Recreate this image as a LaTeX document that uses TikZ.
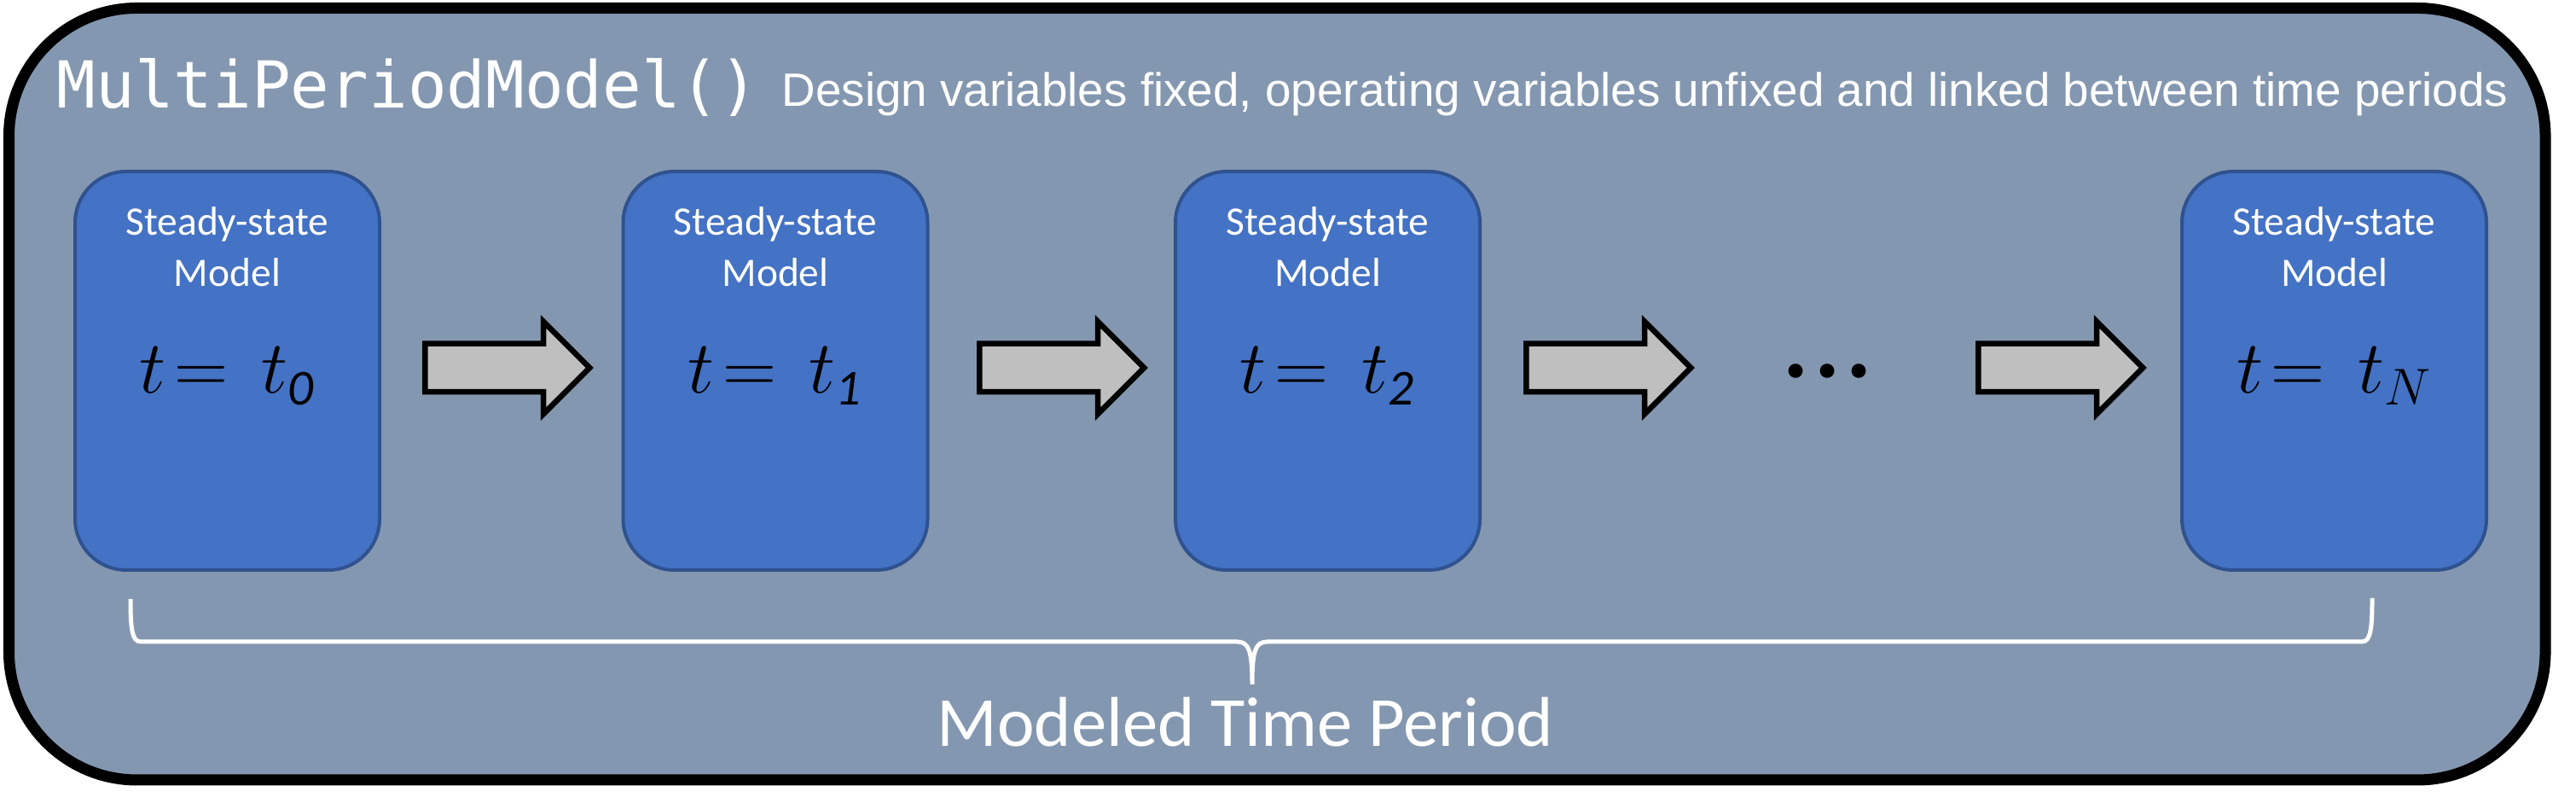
\documentclass[tikz,border=0pt]{standalone}
\usepackage{fontspec}
\setmainfont{Carlito}
\setmonofont{DejaVu Sans Mono}
\newfontfamily\arialfont{Liberation Sans}
\usetikzlibrary{shapes.arrows}

\definecolor{panelgray}{HTML}{8497B0}
\definecolor{modelblue}{HTML}{4472C4}
\definecolor{modeledge}{HTML}{2F528F}
\definecolor{arrowgray}{HTML}{BFBFBF}

\begin{document}
\begin{tikzpicture}[
    model/.style={draw=modeledge, line width=0.04cm, fill=modelblue, rounded corners=0.6cm, minimum width=3.57cm, minimum height=4.67cm, inner sep=0},
    modeltext/.style={text=white, align=center, inner sep=0, font=\fontsize{13.5}{17}\selectfont},
    timelabel/.style={anchor=base, inner sep=0, font=\fontsize{24}{28}\selectfont},
    blockarrow/.style={single arrow, draw=black, line width=0.065cm, fill=arrowgray, minimum height=1.93cm, inner xsep=0, inner ysep=0.25cm, single arrow head extend=0.26cm, anchor=tail},
    brace/.style={draw=white, line width=0.05cm}
  ]
    \useasboundingbox (0,0) rectangle (30.2,9.48);

    % 外框
    \draw[line width=0.13cm, fill=panelgray, rounded corners=1.5cm] (0.105,0.34) rectangle (29.84,9.385);

    % 标题
    \node[anchor=base west, inner sep=0, text=white, font=\ttfamily\fontsize{21.6}{26}\selectfont] (title) at (0.66,8.21) {MultiPeriodModel()};
    \node[anchor=base west, inner sep=0, text=white, font=\arialfont\fontsize{15.6}{18}\selectfont] (subtitle) at (9.16,8.23) {Design variables fixed, operating variables unfixed and linked between time periods};

    % 稳态模型
    \node[model] (m0) at (2.665,5.135) {};
    \node[model] (m1) at (9.09,5.135) {};
    \node[model] (m2) at (15.565,5.135) {};
    \node[model] (mN) at (27.365,5.135) {};

    \node[modeltext] at ([yshift=-0.9cm]m0.north) {Steady-state\\Model};
    \node[modeltext] at ([yshift=-0.9cm]m1.north) {Steady-state\\Model};
    \node[modeltext] at ([yshift=-0.9cm]m2.north) {Steady-state\\Model};
    \node[modeltext] at ([yshift=-0.9cm]mN.north) {Steady-state\\Model};

    \node[timelabel] at ([yshift=-0.265cm]m0.center) {$t\!=\,t_{\mathit{0}}$};
    \node[timelabel] at ([yshift=-0.265cm]m1.center) {$t\!=\,t_{\mathit{1}}$};
    \node[timelabel] at ([yshift=-0.265cm]m2.center) {$t\!=\,t_{\mathit{2}}$};
    \node[timelabel] at ([yshift=-0.265cm]mN.center) {$t\!=\,t_{N}$};

    % 箭头
    \node[blockarrow] (a0) at (4.95,5.17) {};
    \node[blockarrow] (a1) at (11.45,5.17) {};
    \node[blockarrow] (a2) at (17.86,5.17) {};
    \node[blockarrow] (a3) at (23.16,5.17) {};

    % 省略号
    \node[anchor=base, inner sep=0, font=\bfseries\fontsize{32}{34}\selectfont] (dots) at (21.43,5.05) {.\kern0.07cm.\kern0.07cm.};

    % 大括号
    \draw[brace] (1.53,2.46) .. controls (1.53,2.10) and (1.55,1.96) .. (1.65,1.96) -- (14.50,1.96)
      .. controls (14.64,1.96) and (14.68,1.86) .. (14.68,1.46)
      .. controls (14.68,1.86) and (14.72,1.96) .. (14.86,1.96) -- (27.69,1.96)
      .. controls (27.79,1.96) and (27.81,2.10) .. (27.81,2.47);
    \node[anchor=base, inner sep=0, text=white, font=\fontsize{23.5}{28}\selectfont] (period) at (14.6,0.73) {Modeled Time Period};
  \end{tikzpicture}
\end{document}
